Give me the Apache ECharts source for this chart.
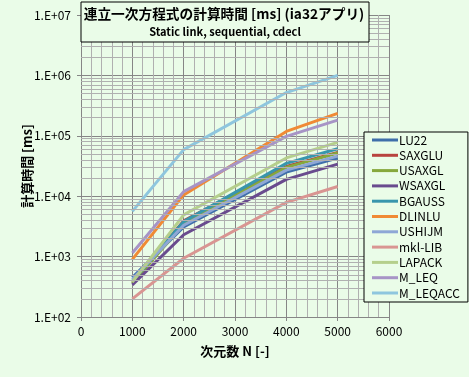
<!DOCTYPE html>
<html>
<head>
<meta charset="utf-8">
<script src="https://cdn.jsdelivr.net/npm/echarts@6/dist/echarts.min.js"></script>
<style>
  html, body { margin: 0; padding: 0; }
  #chart { width: 469px; height: 377px; }
</style>
</head>
<body>
<div id="chart"></div>
<script>
// 次元数 N
const sizes = [1000, 2000, 4000, 5000]

// 計算時間 [ms]
const LU22 = [450, 3100, 25000, 43000]
const SAXGLU = [380, 3900, 31000, 53000]
const USAXGL = [360, 3500, 30000, 52000]
const WSAXGL = [340, 2300, 19000, 34000]
const BGAUSS = [390, 3800, 35000, 61000]
const DLINLU = [900, 10500, 118000, 235000]
const USHIJM = [420, 3300, 27000, 46000]
const mklLIB = [200, 940, 7900, 14500]
const LAPACK = [380, 4900, 43000, 78000]
const M_LEQ = [1150, 11900, 98000, 182000]
const M_LEQACC = [5600, 59000, 520000, 1000000]

const seriesNames = ['LU22', 'SAXGLU', 'USAXGL', 'WSAXGL', 'BGAUSS', 'DLINLU', 'USHIJM', 'mkl-LIB', 'LAPACK', 'M_LEQ', 'M_LEQACC']
const seriesValues = [LU22, SAXGLU, USAXGL, WSAXGL, BGAUSS, DLINLU, USHIJM, mklLIB, LAPACK, M_LEQ, M_LEQACC]
const colors = ['#3f6faa', '#b8433f', '#86a83c', '#694b8e', '#3896ad', '#f08a35', '#8ea7d6', '#d99592', '#b5cf8c', '#a794c6', '#8ec6de']

// log minor grid values (2..9 x 10^k)
const minorLogLines = [2, 3, 4, 5, 6, 7, 8, 9]
const decades = [100, 1000, 10000, 100000, 1000000]

const bg = '#eafce8'
const font = "'Noto Sans CJK JP', 'Noto Sans', sans-serif"

let minorData = []
decades.forEach(d => {
  minorLogLines.forEach(m => {
    minorData.push({ yAxis: m * d })
  })
})

let series = seriesNames.map((name, i) => ({
  name: name,
  type: 'line',
  data: sizes.map((n, j) => [n, seriesValues[i][j]]),
  showSymbol: false,
  symbol: 'none',
  lineStyle: { width: 3, color: colors[i] },
  itemStyle: { color: colors[i] },
  z: 3
}))

series.unshift({
  name: 'grid',
  type: 'line',
  data: [],
  silent: true,
  z: 1,
  markLine: {
    silent: true,
    symbol: 'none',
    label: { show: false },
    lineStyle: { color: '#b0b0b0', width: 1, type: 'solid' },
    data: minorData,
    animation: false
  }
})

const myChart = echarts.init(document.getElementById('chart'))

const option = {
  backgroundColor: bg,
  animation: false,
  color: colors,
  grid: { left: 81, top: 15, right: 80, bottom: 60, containLabel: false },
  graphic: [
    {
      type: 'rect',
      z: 100,
      shape: { x: 81, y: 2, width: 288, height: 40 },
      style: { fill: bg, stroke: '#000', lineWidth: 1 }
    },
    {
      type: 'text',
      z: 101,
      x: 224,
      y: 14,
      style: {
        text: '連立一次方程式の計算時間 [ms] (ia32アプリ)',
        fontFamily: font,
        fontSize: 13.7,
        fontWeight: 'bold',
        fill: '#000',
        align: 'center',
        verticalAlign: 'middle'
      }
    },
    {
      type: 'text',
      z: 101,
      x: 225,
      y: 32,
      style: {
        text: 'Static link, sequential, cdecl',
        fontFamily: font,
        fontSize: 11,
        fontWeight: 'bold',
        fill: '#000',
        align: 'center',
        verticalAlign: 'middle'
      }
    }
  ],
  legend: {
    orient: 'vertical',
    left: 364,
    top: 132,
    data: seriesNames,
    icon: 'rect',
    itemWidth: 26,
    itemHeight: 3,
    itemGap: 1.3,
    padding: [1, 8, 2, 8],
    backgroundColor: bg,
    borderColor: '#000',
    borderWidth: 1,
    z: 100,
    textStyle: {
      fontFamily: font,
      fontSize: 12,
      lineHeight: 14,
      color: '#000',
      padding: [0, 0, 0, -4]
    }
  },
  xAxis: {
    type: 'value',
    min: 0,
    max: 6000,
    interval: 1000,
    name: '次元数 N [-]',
    nameLocation: 'middle',
    nameGap: 28,
    nameMoveOverlap: false,
    nameTextStyle: { fontFamily: font, fontSize: 13, fontWeight: 'bold', color: '#000' },
    axisLine: { show: true, lineStyle: { color: '#868686' } },
    axisTick: { show: true, length: 4, lineStyle: { color: '#868686' } },
    axisLabel: { fontFamily: font, fontSize: 12, color: '#000', margin: 8, formatter: v => String(v) },
    splitLine: { show: true, lineStyle: { color: '#868686', width: 1 } },
    minorTick: { show: false, splitNumber: 5 },
    minorSplitLine: { show: true, lineStyle: { color: '#b0b0b0', width: 1 } }
  },
  yAxis: {
    type: 'log',
    logBase: 10,
    min: 100,
    max: 10000000,
    name: '計算時間 [ms]',
    nameLocation: 'middle',
    nameGap: 47,
    nameMoveOverlap: false,
    nameTextStyle: { fontFamily: font, fontSize: 13, fontWeight: 'bold', color: '#000' },
    axisLine: { show: true, lineStyle: { color: '#868686' } },
    axisTick: { show: true, length: 4, lineStyle: { color: '#868686' } },
    axisLabel: {
      fontFamily: font,
      fontSize: 12,
      color: '#000',
      margin: 10,
      formatter: v => {
        let e = Math.round(Math.log10(v))
        return '1.E+' + (e < 10 ? '0' + e : e)
      }
    },
    splitLine: { show: true, lineStyle: { color: '#868686', width: 1 } }
  },
  series: series
}

myChart.setOption(option)
</script>
</body>
</html>
